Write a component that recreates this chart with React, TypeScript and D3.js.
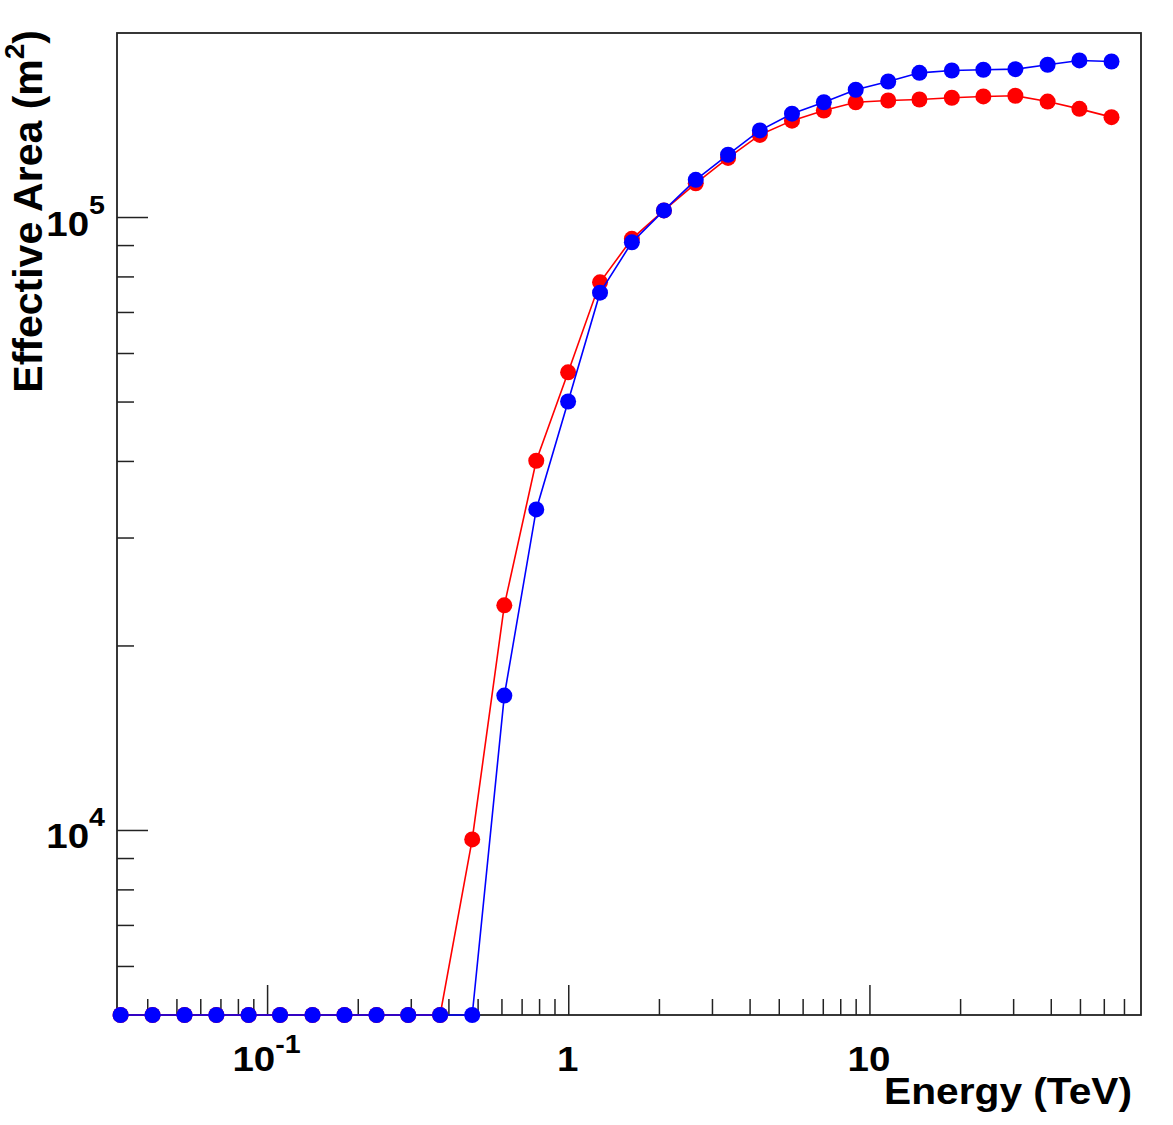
import React from 'react';
import * as d3 from 'd3';

// Energy (TeV) of each point
const energies = [
  0.0325, 0.0415, 0.053, 0.0676, 0.0865, 0.11, 0.141, 0.18, 0.23, 0.293, 0.374,
  0.478, 0.611, 0.78, 0.995, 1.27, 1.62, 2.07, 2.64, 3.38, 4.31, 5.51, 7.03,
  8.97, 11.5, 14.6, 18.7, 23.8, 30.4, 38.9, 49.6, 63.4,
];

// Effective area (m^2); 0 = below threshold, drawn on the axis floor
const redArea = [
  0, 0, 0, 0, 0, 0, 0, 0, 0, 0, 0,
  9670, 23300, 40100, 55900, 78400, 92300, 102700, 113700, 125100, 136400,
  143900, 149500, 154200, 155200, 155800, 156800, 157600, 158000, 154600,
  150400, 145800,
];

const blueArea = [
  0, 0, 0, 0, 0, 0, 0, 0, 0, 0, 0, 0,
  16600, 33400, 50100, 75400, 91100, 102700, 115200, 126600, 138700, 147700,
  154200, 161600, 166700, 172200, 173700, 174200, 174600, 177500, 180400,
  179700,
];

const xMajor = [
  { v: 0.1, base: '10', exp: '-1' },
  { v: 1, base: '1', exp: '' },
  { v: 10, base: '10', exp: '' },
];
const yMajor = [
  { v: 1e4, base: '10', exp: '4' },
  { v: 1e5, base: '10', exp: '5' },
];

const WIDTH = 1173;
const HEIGHT = 1125;
const left = 117;
const right = 1141;
const top = 33;
const bottom = 1015;
const FONT = '"Liberation Sans", Arial, Helvetica, sans-serif';
const STRETCH = 1.1; // the reference text is a bit wider than plain Helvetica

const App: React.FC = () => {
  const x = d3.scaleLog().domain([Math.pow(10, -1.5), Math.pow(10, 1.9)]).range([left, right]);
  const y = d3.scaleLog().domain([5000, 2e5]).range([bottom, top]);
  const yMin = y.domain()[0];

  const line = d3
    .line<[number, number]>()
    .x((d) => x(d[0]))
    .y((d) => y(Math.max(d[1], yMin)));

  const series = [
    { color: '#ff0000', values: redArea },
    { color: '#0000ff', values: blueArea },
  ];

  const xTicks = x.ticks().filter((t) => t > x.domain()[0] && t < x.domain()[1]);
  const yTicks = y.ticks().filter((t) => t >= yMin && t < y.domain()[1]);
  const isMajor = (t: number) => Math.abs(Math.log10(t) - Math.round(Math.log10(t))) < 1e-9;

  return (
    <svg
      width={WIDTH}
      height={HEIGHT}
      style={{ position: 'absolute', left: 0, top: 0, background: '#fff' }}
      fontFamily={FONT}
    >
      <rect x={0} y={0} width={WIDTH} height={HEIGHT} fill="#fff" />

      {/* ticks */}
      {xTicks.map((t, i) => (
        <line
          key={'xt' + i}
          x1={x(t)}
          x2={x(t)}
          y1={bottom}
          y2={bottom - (isMajor(t) ? 30 : 16)}
          stroke="#222"
          strokeWidth={1.5}
        />
      ))}
      {yTicks.map((t, i) => (
        <line
          key={'yt' + i}
          x1={left}
          x2={left + (isMajor(t) ? 31 : 17)}
          y1={y(t)}
          y2={y(t)}
          stroke="#222"
          strokeWidth={1.5}
        />
      ))}

      {/* frame */}
      <rect
        x={left}
        y={top}
        width={right - left}
        height={bottom - top}
        fill="none"
        stroke="#222"
        strokeWidth={1.8}
      />

      {/* tick labels */}
      {xMajor.map((d, i) => (
        <text
          key={'xl' + i}
          transform={`translate(${x(d.v) - 1},1071) scale(${STRETCH},1)`}
          textAnchor="middle"
          fontSize={35}
          fontWeight="bold"
          fill="#000"
        >
          {d.base}
          {d.exp && (
            <tspan fontSize={26} dy={-18}>
              {d.exp}
            </tspan>
          )}
        </text>
      ))}
      {yMajor.map((d, i) => (
        <text
          key={'yl' + i}
          transform={`translate(105,${y(d.v) + 18}) scale(${STRETCH},1)`}
          textAnchor="end"
          fontSize={35}
          fontWeight="bold"
          fill="#000"
        >
          {d.base}
          <tspan fontSize={26} dy={-22}>
            {d.exp}
          </tspan>
        </text>
      ))}

      {/* axis titles */}
      <text
        transform={`translate(1132,1104) scale(${STRETCH},1)`}
        textAnchor="end"
        fontSize={37}
        fontWeight="bold"
        fill="#000"
      >
        Energy (TeV)
      </text>
      <text
        transform="translate(42,30) rotate(-90)"
        textAnchor="end"
        fontSize={41}
        fontWeight="bold"
        fill="#000"
      >
        Effective Area (m
        <tspan fontSize={28} dy={-18}>
          2
        </tspan>
        <tspan dy={18}>)</tspan>
      </text>

      {/* graphs */}
      {series.map((s, si) => (
        <g key={'s' + si}>
          <path
            d={line(energies.map((e, i) => [e, s.values[i]] as [number, number])) as string}
            fill="none"
            stroke={s.color}
            strokeWidth={1.6}
          />
          {energies.map((e, i) => (
            <circle
              key={i}
              cx={x(e)}
              cy={y(Math.max(s.values[i], yMin))}
              r={8}
              fill={s.color}
            />
          ))}
        </g>
      ))}
    </svg>
  );
};

export default App;
